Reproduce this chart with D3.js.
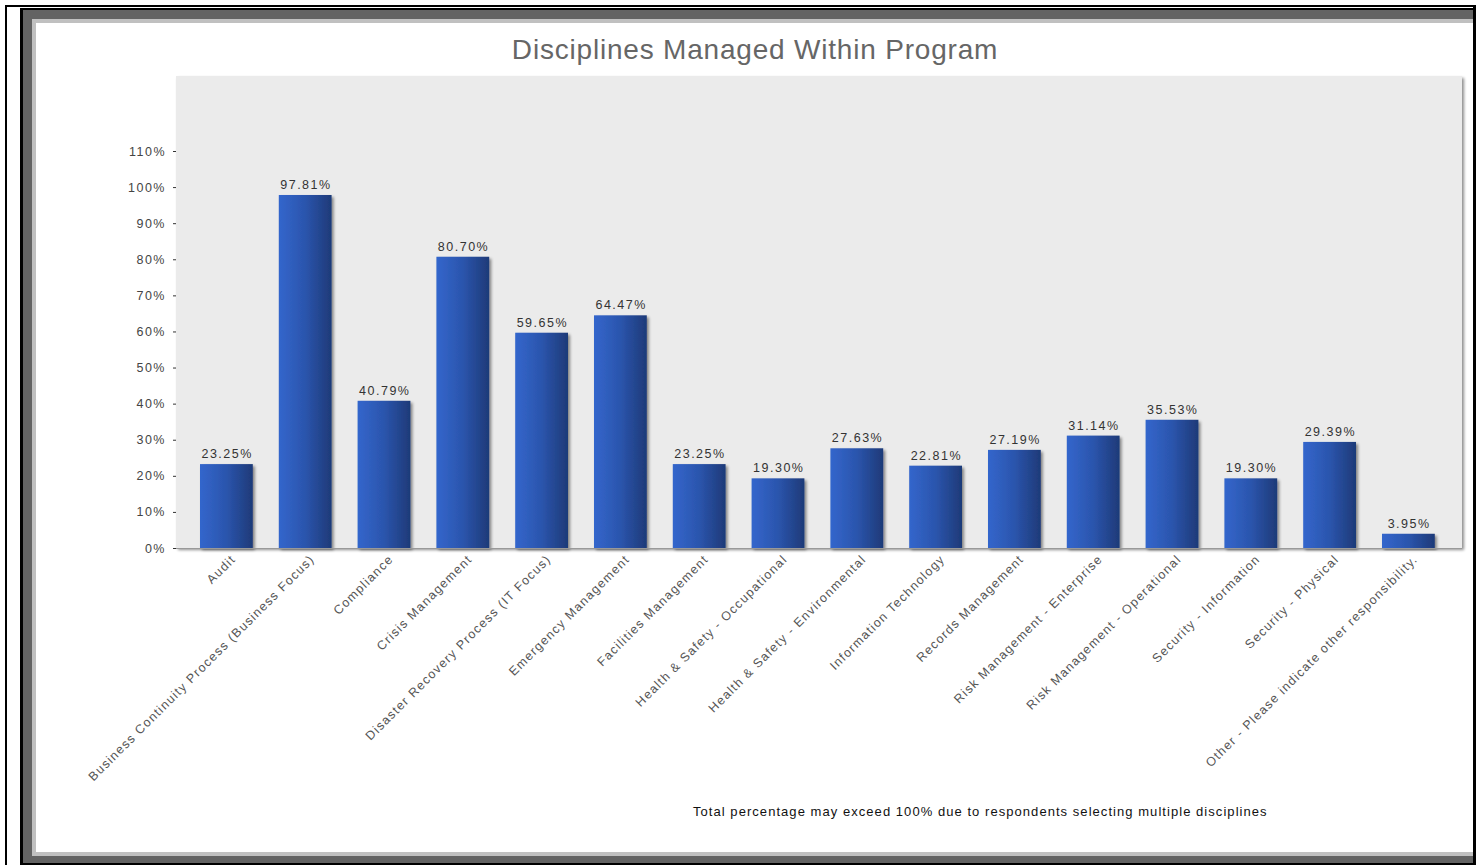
<!DOCTYPE html>
<html><head><meta charset="utf-8">
<script src="https://cdn.jsdelivr.net/npm/d3@7"></script>
<style>html,body{margin:0;padding:0;background:#fff;overflow:hidden}svg{display:block}text{font-family:"Liberation Sans",Arial,sans-serif}</style>
</head><body>
<svg id="c" width="1482" height="865"></svg>
<script>
const categories = ["Audit","Business Continuity Process (Business Focus)","Compliance","Crisis Management","Disaster Recovery Process (IT Focus)","Emergency Management","Facilities Management","Health & Safety - Occupational","Health & Safety - Environmental","Information Technology","Records Management","Risk Management - Enterprise","Risk Management - Operational","Security - Information","Security - Physical","Other - Please indicate other responsibility."];
const values = [23.25,97.81,40.79,80.70,59.65,64.47,23.25,19.30,27.63,22.81,27.19,31.14,35.53,19.30,29.39,3.95];
const yTicks = [0,10,20,30,40,50,60,70,80,90,100,110];
const title = "Disciplines Managed Within Program";
const footnote = "Total percentage may exceed 100% due to respondents selecting multiple disciplines";

const svg = d3.select("#c");
const defs = svg.append("defs");
const g1 = defs.append("linearGradient").attr("id","bar").attr("x1","0").attr("x2","1").attr("y1","0").attr("y2","0");
g1.append("stop").attr("offset","0").attr("stop-color","#3366cc");
g1.append("stop").attr("offset","0.5").attr("stop-color","#2b55ad");
g1.append("stop").attr("offset","1").attr("stop-color","#1e3a78");
const f = defs.append("filter").attr("id","sh").attr("x","-10%").attr("y","-10%").attr("width","130%").attr("height","130%");
f.append("feGaussianBlur").attr("in","SourceAlpha").attr("stdDeviation",1.5).attr("result","b");
f.append("feOffset").attr("in","b").attr("dx",2).attr("dy",2).attr("result","o");
f.append("feComponentTransfer").attr("in","o").attr("result","o2").append("feFuncA").attr("type","linear").attr("slope",0.45);
const fm = f.append("feMerge"); fm.append("feMergeNode").attr("in","o2"); fm.append("feMergeNode").attr("in","SourceGraphic");

// window frame
svg.append("rect").attr("x",5).attr("y",5).attr("width",1471).attr("height",860).attr("fill","#000");
svg.append("rect").attr("x",7).attr("y",7).attr("width",1466).attr("height",858).attr("fill","#fff");
svg.append("rect").attr("x",20).attr("y",8).attr("width",1455).attr("height",857).attr("fill","#000");
svg.append("rect").attr("x",23).attr("y",10).attr("width",1450).attr("height",853).attr("fill","#636363");
svg.append("rect").attr("x",32).attr("y",19).attr("width",1441).attr("height",837).attr("fill","#c0c0c0");
svg.append("rect").attr("x",36).attr("y",23).attr("width",1437).attr("height",829).attr("fill","#fff");

const plot = {l:176, r:1462, t:76, b:548};
const y = d3.scaleLinear().domain([0, 110*(plot.b-plot.t)/(548-151)]).range([plot.b, plot.t]);
const x = d3.scaleBand().domain(categories).range([187, 187+16*78.8]).paddingInner(0.33).paddingOuter(0.165);

// plot background with shadow
svg.append("rect").attr("x",plot.l).attr("y",plot.t).attr("width",plot.r-plot.l).attr("height",plot.b-plot.t)
  .attr("fill","#ebebeb").attr("filter","url(#sh)");

// title
svg.append("text").attr("x",755).attr("y",59).attr("text-anchor","middle").attr("font-size",28).attr("letter-spacing","0.8px").attr("fill","#666").text(title);

// y axis
const ya = svg.append("g").attr("transform",`translate(${plot.l},0)`)
  .call(d3.axisLeft(y).tickValues(yTicks).tickFormat(d=>d+"%").tickSize(3).tickPadding(7));
ya.select(".domain").remove();
ya.selectAll(".tick line").attr("stroke","#333");
ya.selectAll(".tick text").attr("font-size",12.5).attr("fill","#444").attr("font-family","'Liberation Sans',Arial,sans-serif").attr("letter-spacing","1.5px");

// bars
svg.append("g").selectAll("rect").data(values).join("rect")
  .attr("x",(d,i)=>x(categories[i])).attr("width",x.bandwidth())
  .attr("y",d=>y(d)).attr("height",d=>y(0)-y(d))
  .attr("fill","url(#bar)").attr("filter","url(#sh)");

// value labels
svg.append("g").selectAll("text").data(values).join("text")
  .attr("x",(d,i)=>x(categories[i])+x.bandwidth()/2+0.75).attr("y",d=>y(d)-6)
  .attr("text-anchor","middle").attr("font-size",12.5).attr("fill","#333").attr("letter-spacing","1.5px")
  .text(d=>d.toFixed(2)+"%");

// x axis line
svg.append("line").attr("x1",plot.l).attr("x2",plot.r).attr("y1",plot.b+0.5).attr("y2",plot.b+0.5).attr("stroke","#999");

// x labels
svg.append("g").selectAll("text").data(categories).join("text")
  .attr("transform",(d)=>`translate(${x(d)+x.bandwidth()/2+10},${plot.b+12}) rotate(-45)`)
  .attr("text-anchor","end").attr("font-size",12.5).attr("fill","#555").attr("letter-spacing","1.25px")
  .text(d=>d);

// footnote
svg.append("text").attr("x",693).attr("y",816).attr("font-size",13).attr("letter-spacing","1.05px").attr("fill","#111").text(footnote);
</script>
</body></html>
